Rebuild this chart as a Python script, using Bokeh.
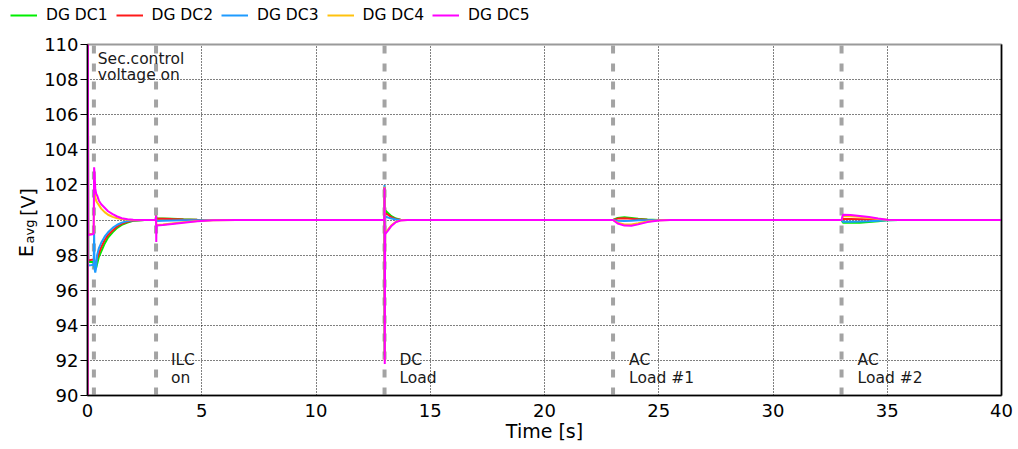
import math
from bokeh.plotting import figure
from bokeh.layouts import row, column
from bokeh.models import (Range1d, SingleIntervalTicker, LinearAxis, Label,
                          Legend, ColumnDataSource)
from bokeh.core.properties import value
from bokeh.embed import file_html
from bokeh.resources import INLINE

# Simulation time [s] (shared by all five DC generator traces)
time_s = [0, 0.012, 0.03, 0.27, 0.29, 0.31, 0.34, 0.38, 0.42, 0.5, 0.6, 0.75,
          0.9, 1.1, 1.3, 1.5, 1.75, 2.0, 2.5, 2.99, 3.0, 3.01, 3.02, 3.3, 3.7,
          4.2, 4.8, 5.5, 6.5, 12.99, 13.0, 13.01, 13.025, 13.15, 13.3, 13.5,
          13.7, 14.0, 23.0, 23.2, 23.5, 23.8, 24.1, 24.5, 25.0, 25.5, 33.0,
          33.06, 33.4, 33.8, 34.2, 34.6, 35.0, 35.5, 40]

# Average DC voltage E_avg [V] of each generator
dg_dc1 = [0, 118, 97.6, 97.6, 97.5, 97.3, 97.2, 97.3, 97.5, 97.9, 98.2, 98.65,
          99.0, 99.3, 99.55, 99.72, 99.86, 99.95, 100, 100, 100.25, 100.1, 100.1,
          100.09, 100.07, 100.04, 100.01, 100, 100, 100, 101.9, 92.3, 100.55,
          100.4, 100.22, 100.08, 100.02, 100, 100, 100.12, 100.15, 100.12,
          100.07, 100.03, 100, 100, 100, 99.85, 99.84, 99.85, 99.88, 99.93,
          99.98, 100, 100]
dg_dc2 = [0, 118, 97.7, 97.75, 97.7, 97.4, 97.5, 97.6, 97.8, 98.1, 98.45, 98.85,
          99.15, 99.4, 99.63, 99.78, 99.9, 99.97, 100, 100, 100.25, 100.08,
          100.08, 100.07, 100.05, 100.03, 100.01, 100, 100, 100, 101.9, 92.3,
          100.4, 100.3, 100.16, 100.05, 100.01, 100, 100, 100.08, 100.1, 100.07,
          100.04, 100.02, 100, 100, 100, 100.05, 100.05, 100.04, 100.03, 100.02,
          100.0, 100, 100]
dg_dc3 = [0, 118, 97.4, 97.45, 99.3, 97.2, 97.0, 97.3, 98.0, 98.4, 98.7, 99.05,
          99.3, 99.55, 99.73, 99.85, 99.94, 99.98, 100, 100, 100.25, 99.95, 99.95,
          99.96, 99.97, 99.98, 99.99, 100, 100, 100, 102.0, 92.2, 100.2, 100.14,
          100.08, 100.03, 100.0, 100, 100, 99.96, 99.95, 99.96, 99.98, 99.99,
          100, 100, 100, 99.9, 99.9, 99.91, 99.93, 99.96, 99.99, 100, 100]
dg_dc4 = [0, 118, 99.2, 99.2, 101.8, 101.6, 101.3, 101.1, 101.0, 100.85, 100.65,
          100.45, 100.3, 100.18, 100.1, 100.05, 100.02, 100.0, 100, 100, 100.25,
          99.72, 99.72, 99.74, 99.8, 99.87, 99.94, 99.98, 100, 100, 101.9, 92.0,
          99.25, 99.45, 99.7, 99.9, 99.98, 100, 100, 99.85, 99.75, 99.75, 99.82,
          99.92, 99.98, 100, 100, 100.22, 100.22, 100.18, 100.12, 100.06, 100.02,
          100, 100]
dg_dc5 = [0, 118, 99.15, 99.2, 103.0, 102.6, 101.8, 101.5, 101.4, 101.1, 100.9,
          100.7, 100.5, 100.33, 100.2, 100.1, 100.04, 100.01, 100, 100, 100.25,
          98.75, 99.68, 99.71, 99.77, 99.85, 99.93, 99.98, 100, 100, 101.85, 91.8,
          99.2, 99.4, 99.66, 99.88, 99.97, 100, 100, 99.8, 99.68, 99.67, 99.75,
          99.88, 99.97, 100, 100, 100.3, 100.28, 100.23, 100.17, 100.08, 100.02,
          100, 100]

series_names = ["DG DC1", "DG DC2", "DG DC3", "DG DC4", "DG DC5"]
series_colors = ["#00ee00", "#ff1a1a", "#1e9bff", "#ffc20e", "#ff00ff"]

# Switching events [s] and their captions
event_times = [0.28, 3, 13, 23, 33]
event_caption_x = [0.45, 3.65, 13.65, 23.7, 33.7]
event_line1 = ["Sec.control", "ILC", "DC", "AC", "AC"]
event_line2 = ["voltage on", "on", "Load", "Load #1", "Load #2"]
event_line1_y = [109.2, 92.0, 92.0, 92.0, 92.0]
event_line2_y = [108.25, 90.97, 90.97, 90.97, 90.97]

FONT = "DejaVu Sans"
W, H = 1018, 449
TOP_H = 30                 # legend strip
LBL_W = 40                 # y-title strip
BODY_H = H - TOP_H
FRAME_TOP, FRAME_BOTTOM = 44, 54   # margins around the plotting frame
FRAME_H = H - FRAME_TOP - FRAME_BOTTOM


def bare(width, height, y_span, top=0, bottom=0):
    f = figure(width=width, height=height, output_backend="svg",
               toolbar_location=None, x_range=Range1d(0, width),
               y_range=Range1d(0, y_span), x_axis_location=None,
               y_axis_location=None, min_border=0, min_border_top=top,
               min_border_bottom=bottom, outline_line_color=None)
    f.grid.visible = False
    f.background_fill_color = "white"
    f.border_fill_color = "white"
    return f


# ---- legend strip ----
top = bare(W, TOP_H, TOP_H)
legend_rs = [top.line(x=[0], y=[-10], line_color=c, line_width=2)
             for c in series_colors]
lg = Legend(items=[(n, [r]) for n, r in zip(series_names, legend_rs)],
            orientation="horizontal", location=(10, 5),
            padding=0, margin=0, spacing=8, glyph_width=27, glyph_height=20,
            label_standoff=9, label_text_font=FONT, label_text_color="black",
            label_text_font_size="15.5px", border_line_color=None,
            background_fill_alpha=0)
top.add_layout(lg)

# ---- y-axis title strip: E_avg [V]; pixel coords measured up from frame bottom ----
lab = bare(LBL_W, BODY_H, FRAME_H, top=FRAME_TOP - TOP_H, bottom=FRAME_BOTTOM)
ytitle = [("E", "19px", 25, 144.5), ("avg", "13px", 29, 164.0),
          ("[V]", "19px", 27, 193.5)]
for txt, size, tx, ty in ytitle:
    lab.text(x=[tx], y=[ty], text=[txt], angle=math.pi / 2,
             text_font=value(FONT), text_font_size=value(size),
             text_color="black", text_align="center", text_baseline="middle")

# ---- main chart ----
p = figure(width=W - LBL_W, height=BODY_H, output_backend="svg",
           toolbar_location=None,
           x_range=Range1d(0, 40), y_range=Range1d(90, 110),
           min_border_left=87 - LBL_W, min_border_right=17,
           min_border_top=FRAME_TOP - TOP_H, min_border_bottom=FRAME_BOTTOM)
p.background_fill_color = "white"
p.border_fill_color = "white"
# gray frame outline; the black axes cover it on left, bottom and right
p.outline_line_color = "#9a9a9a"
p.outline_line_width = 2

p.xaxis.ticker = SingleIntervalTicker(interval=5)
p.yaxis.ticker = SingleIntervalTicker(interval=2)
for ax in (p.xaxis[0], p.yaxis[0]):
    ax.axis_line_color = "black"
    ax.axis_line_width = 1.5
    ax.major_tick_line_color = "black"
    ax.minor_tick_line_color = None
    ax.major_label_text_font = FONT
    ax.major_label_text_font_size = "18px"
    ax.major_label_text_color = "black"
p.xaxis.major_tick_out = 0
p.xaxis.major_tick_in = 0
p.xaxis.major_label_standoff = 4
p.yaxis.major_tick_out = 7
p.yaxis.major_tick_in = 0
p.yaxis.major_label_standoff = 2
p.xaxis.axis_label = "Time [s]"
p.xaxis.axis_label_text_font = FONT
p.xaxis.axis_label_text_font_size = "19px"
p.xaxis.axis_label_text_font_style = "normal"
p.xaxis.axis_label_text_color = "black"
p.xaxis.axis_label_standoff = 0

right_ax = LinearAxis(axis_line_color="black", axis_line_width=1.5,
                      major_tick_out=0, major_tick_in=0, minor_tick_out=0,
                      minor_tick_in=0, major_tick_line_color=None,
                      minor_tick_line_color=None, major_label_standoff=0,
                      major_label_text_font_size="0px",
                      major_label_text_color=None)
p.add_layout(right_ax, "right")

# dotted grid
for g in (p.xgrid[0], p.ygrid[0]):
    g.grid_line_color = "black"
    g.grid_line_dash = "1 2"
    g.grid_line_width = 1
    g.grid_line_alpha = 1.0

# event markers
ev = ColumnDataSource(dict(x=event_times, y0=[90] * len(event_times),
                           y1=[110] * len(event_times)))
p.segment(x0="x", y0="y0", x1="x", y1="y1", source=ev, line_color="#a3a3a3",
          line_width=4, line_dash="8 10")

# voltage traces
for color, vals in zip(series_colors, [dg_dc1, dg_dc2, dg_dc3, dg_dc4, dg_dc5]):
    p.line(time_s, vals, line_color=color, line_width=2)

# event captions
for x, t1, t2, y1, y2 in zip(event_caption_x, event_line1, event_line2,
                             event_line1_y, event_line2_y):
    for txt, yy in ((t1, y1), (t2, y2)):
        p.add_layout(Label(x=x, y=yy, text=txt, text_font=FONT,
                           text_font_size="15.5px", text_color="#1a1a1a",
                           text_baseline="middle", text_align="left"))

layout = column(top, row(lab, p), spacing=0)
open("out.html", "w").write(file_html(layout, INLINE))
